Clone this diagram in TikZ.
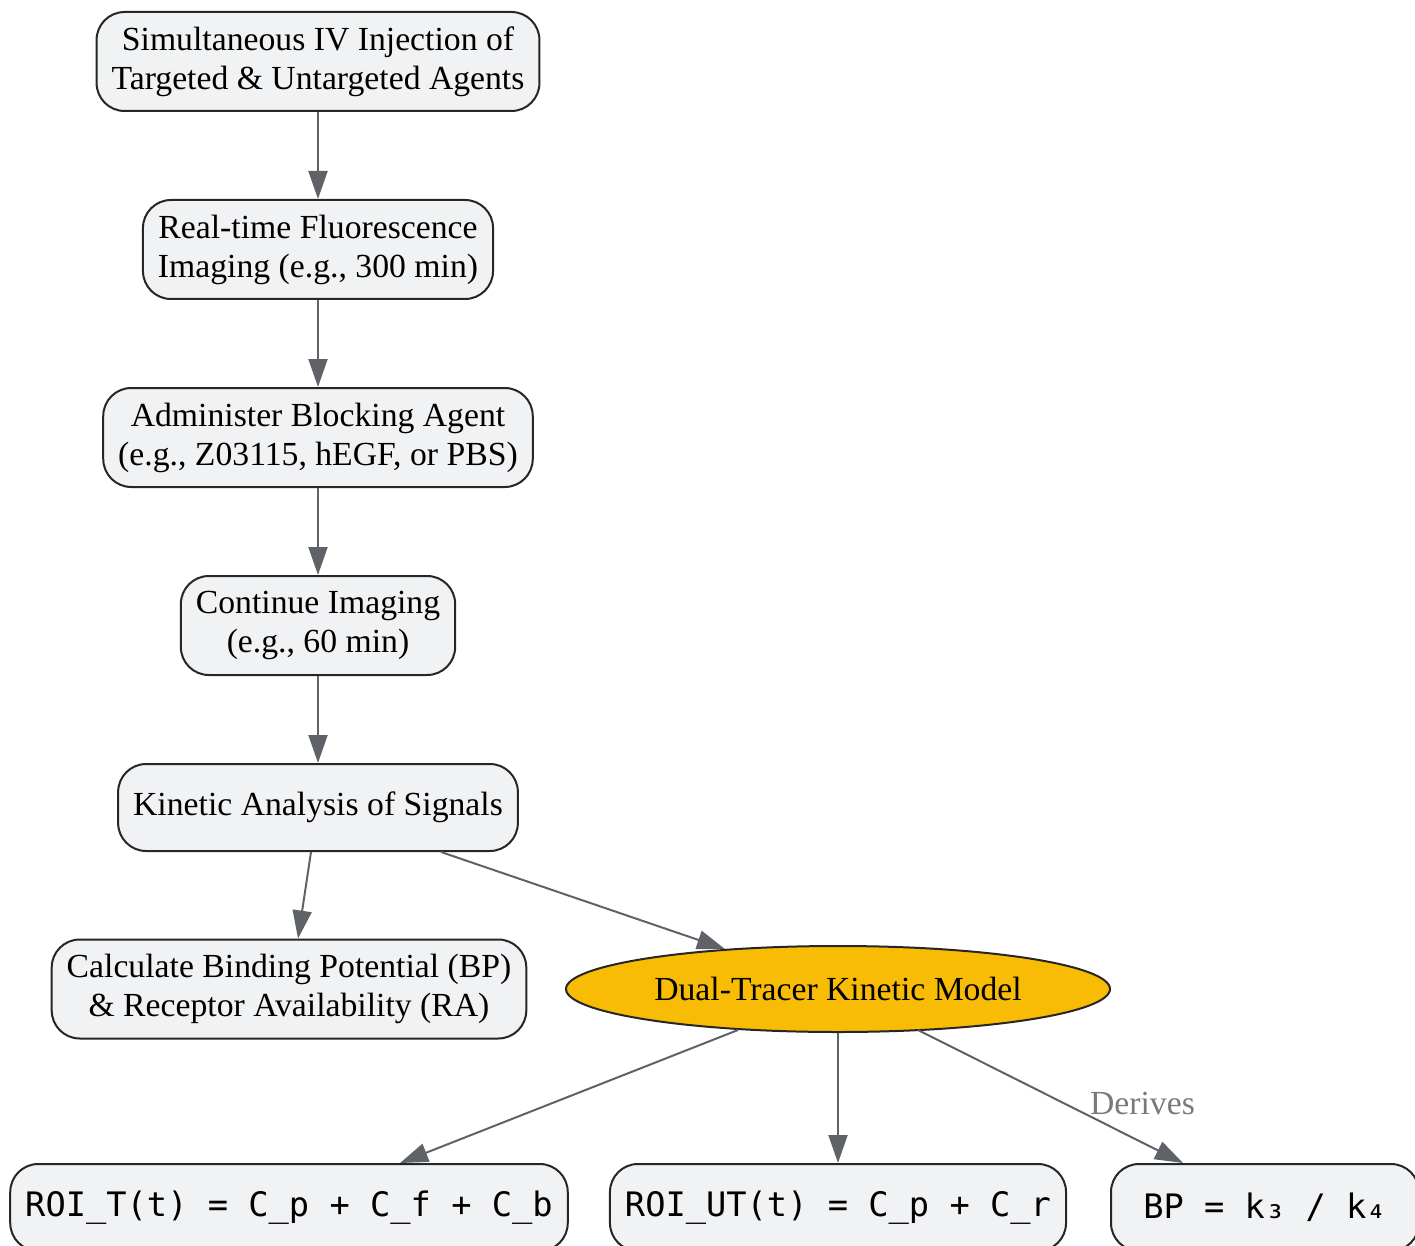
\documentclass[tikz,border=0pt]{standalone}
\usepackage{fontspec}
\setmainfont{Liberation Serif}
\setmonofont{DejaVu Sans Mono}
\usetikzlibrary{arrows.meta,shapes.geometric}

\definecolor{boxfill}{HTML}{F1F2F4}
\definecolor{edgegray}{HTML}{5F6368}
\definecolor{modelyellow}{HTML}{F9BC05}

\tikzset{
  stepbox/.style={draw=black!85, fill=boxfill, line width=2pt, rounded corners=28pt,
    align=center, inner xsep=15pt, inner ysep=0pt, minimum height=99pt,
    font=\fontsize{33.7}{39}\selectfont},
  onebox/.style={stepbox, minimum height=87pt},
  codebox/.style={stepbox, minimum height=87pt, font=\ttfamily\fontsize{33.7}{39}\selectfont},
  model/.style={ellipse, draw=black!85, fill=modelyellow, line width=2pt,
    minimum width=544pt, minimum height=86pt, inner sep=0pt,
    font=\fontsize{33.7}{39}\selectfont},
  flow/.style={draw=edgegray, line width=2pt, -{Triangle[length=28pt,width=19pt]}},
  elabel/.style={text=edgegray!85, font=\fontsize{33.7}{39}\selectfont}
}

\begin{document}
\begin{tikzpicture}[x=1pt,y=-1pt]
  \useasboundingbox (0,0) rectangle (1415,1246);

  % Protocol steps
  \node[stepbox] (inject) at (318,61.5) {Simultaneous IV Injection of\\Targeted \& Untargeted Agents};
  \node[stepbox] (image) at (318,249.5) {Real-time Fluorescence\\Imaging (e.g., 300 min)};
  \node[stepbox] (block) at (318,437.5) {Administer Blocking Agent\\(e.g., Z03115, hEGF, or PBS)};
  \node[stepbox] (cont) at (318,625.5) {Continue Imaging\\(e.g., 60 min)};
  \node[onebox] (kin) at (318,807.5) {Kinetic Analysis of Signals};

  % Outcomes
  \node[stepbox] (calc) at (289,989) {Calculate Binding Potential (BP)\\\& Receptor Availability (RA)};
  \node[model] (model) at (838,989) {Dual-Tracer Kinetic Model};

  % Model equations
  \node[codebox] (roit) at (289,1207.5) {ROI\_T(t) = C\_p + C\_f + C\_b};
  \node[codebox] (roiut) at (838,1207.5) {ROI\_UT(t) = C\_p + C\_r};
  \node[codebox, minimum width=308pt] (bp) at (1265,1207.5) {BP = k₃ / k₄};

  % Connectors
  \draw[flow] (inject) -- (image);
  \draw[flow] (image) -- (block);
  \draw[flow] (block) -- (cont);
  \draw[flow] (cont) -- (kin);
  \draw[flow] ([xshift=-7pt]kin.south) -- ([xshift=9pt]calc.north);
  \draw[flow] ([xshift=123pt]kin.south) -- ([xshift=-113pt,yshift=-4pt]model.north);
  \draw[flow] ([xshift=-100pt,yshift=3pt]model.south) -- ([xshift=111pt]roit.north);
  \draw[flow] (model) -- (roiut);
  \draw[flow] ([xshift=80pt,yshift=3pt]model.south) -- ([xshift=-82pt]bp.north)
    node[elabel, pos=0.55, anchor=west, xshift=22pt] {Derives};
\end{tikzpicture}
\end{document}
